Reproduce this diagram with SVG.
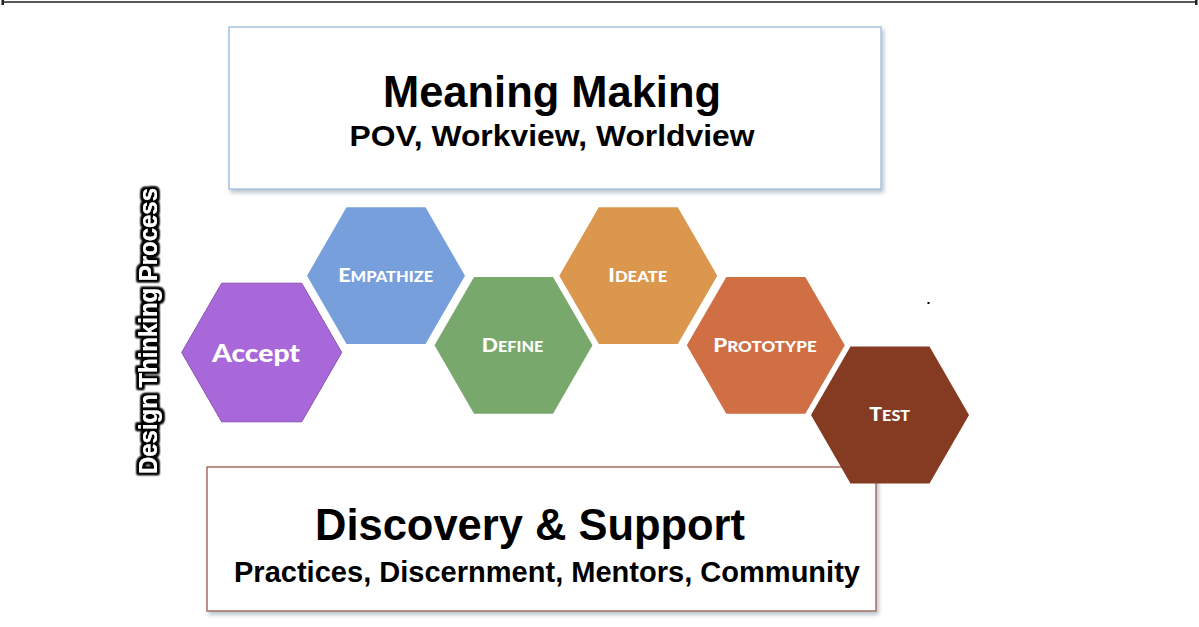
<svg xmlns="http://www.w3.org/2000/svg" width="1199" height="627" viewBox="0 0 1199 627">
<defs>
<style>
.box{fill:#ffffff;stroke-width:1.5}
.title{font-family:"Liberation Sans",Arial,sans-serif;font-weight:bold;fill:#000;text-anchor:middle}
.hex{stroke:none}
.lbl{font-family:Lato,"Open Sans","Liberation Sans",sans-serif;font-weight:900;fill:#ffffff;text-anchor:middle}
.big{font-size:19px}
.sm{font-size:14.5px}
</style>
<filter id="shadow" x="-5%" y="-10%" width="112%" height="125%">
<feGaussianBlur in="SourceAlpha" stdDeviation="2"/>
<feOffset dx="2" dy="3" result="b"/>
<feFlood flood-color="#8a9aaa" flood-opacity="0.6"/>
<feComposite in2="b" operator="in"/>
<feMerge><feMergeNode/><feMergeNode in="SourceGraphic"/></feMerge>
</filter>
<filter id="glow" x="-10%" y="-60%" width="120%" height="220%">
<feMorphology in="SourceAlpha" operator="dilate" radius="2.2" result="d"/>
<feGaussianBlur in="d" stdDeviation="1.3" result="bl"/>
<feFlood flood-color="#000000"/>
<feComposite in2="bl" operator="in" result="o"/>
<feMerge><feMergeNode in="o"/><feMergeNode in="o"/><feMergeNode in="o"/><feMergeNode in="SourceGraphic"/></feMerge>
</filter>
</defs>
<rect x="0" y="0" width="1199" height="627" fill="#ffffff"/>

<g id="top-rule">
<line x1="3" y1="2" x2="1196" y2="2" stroke="#222" stroke-width="1.5"/>
<rect x="1.5" y="0" width="2.5" height="5" fill="#222"/>
<rect x="1195" y="0" width="2.5" height="5" fill="#222"/>
</g>

<g id="meaning-making">
<rect class="box" x="229" y="27" width="652" height="162" stroke="#a9c4e0" filter="url(#shadow)"/>
<text class="title" x="552" y="107" font-size="44" textLength="338" lengthAdjust="spacingAndGlyphs">Meaning Making</text>
<text class="title" x="552" y="146" font-size="30" textLength="405" lengthAdjust="spacingAndGlyphs">POV, Workview, Worldview</text>
</g>

<g id="discovery-support">
<rect class="box" x="207" y="467" width="669" height="144" stroke="#a86f60" filter="url(#shadow)"/>
<text class="title" x="530" y="540" font-size="44" textLength="430" lengthAdjust="spacingAndGlyphs">Discovery &amp; Support</text>
<text class="title" x="547" y="582" font-size="29" textLength="626" lengthAdjust="spacingAndGlyphs">Practices, Discernment, Mentors, Community</text>
</g>

<g id="design-thinking-label">
<text transform="translate(157,331) rotate(-90)" font-family="'Liberation Sans',Arial,sans-serif" font-weight="bold" font-size="25" fill="#ffffff" text-anchor="middle" textLength="286" lengthAdjust="spacingAndGlyphs" filter="url(#glow)">Design Thinking Process</text>
</g>

<g id="connectors"></g>

<g id="accept">
<polygon points="181.7,352.5 221.7,283.2 301.7,283.2 341.7,352.5 301.7,421.8 221.7,421.8" fill="#a968d9" stroke="#8a4fb8" stroke-width="1"/>
<text class="lbl" x="256" y="362" font-size="25" textLength="88" lengthAdjust="spacingAndGlyphs">Accept</text>
</g>

<g id="empathize">
<polygon class="hex" points="307,275.7 346.5,207.3 425.5,207.3 465,275.7 425.5,344.1 346.5,344.1" fill="#769fdc"/>
<text class="lbl" x="385.7" y="281.7" textLength="95" lengthAdjust="spacingAndGlyphs"><tspan class="big">E</tspan><tspan class="sm">MPATHIZE</tspan></text>
</g>

<g id="define">
<polygon class="hex" points="434.5,345.3 474,276.9 553,276.9 592.5,345.3 553,413.7 474,413.7" fill="#78a86b"/>
<text class="lbl" x="512.5" y="351.7" textLength="61.6" lengthAdjust="spacingAndGlyphs"><tspan class="big">D</tspan><tspan class="sm">EFINE</tspan></text>
</g>

<g id="ideate">
<polygon class="hex" points="559.3,275.7 598.8,207.3 677.8,207.3 717.3,275.7 677.8,344.1 598.8,344.1" fill="#dc974f"/>
<text class="lbl" x="637.8" y="281.7" textLength="59" lengthAdjust="spacingAndGlyphs"><tspan class="big">I</tspan><tspan class="sm">DEATE</tspan></text>
</g>

<g id="prototype">
<polygon class="hex" points="686.8,345.3 726.3,276.9 805.3,276.9 844.8,345.3 805.3,413.7 726.3,413.7" fill="#d06f44"/>
<text class="lbl" x="765" y="351.7" textLength="103.4" lengthAdjust="spacingAndGlyphs"><tspan class="big">P</tspan><tspan class="sm">ROTOTYPE</tspan></text>
</g>

<g id="test">
<polygon class="hex" points="811,415 850.5,346.6 929.5,346.6 969,415 929.5,483.4 850.5,483.4" fill="#853a22"/>
<text class="lbl" x="889.7" y="420.7" textLength="40.7" lengthAdjust="spacingAndGlyphs"><tspan class="big">T</tspan><tspan class="sm">EST</tspan></text>
</g>

<rect x="927.5" y="302" width="2" height="2" fill="#000"/>
</svg>
